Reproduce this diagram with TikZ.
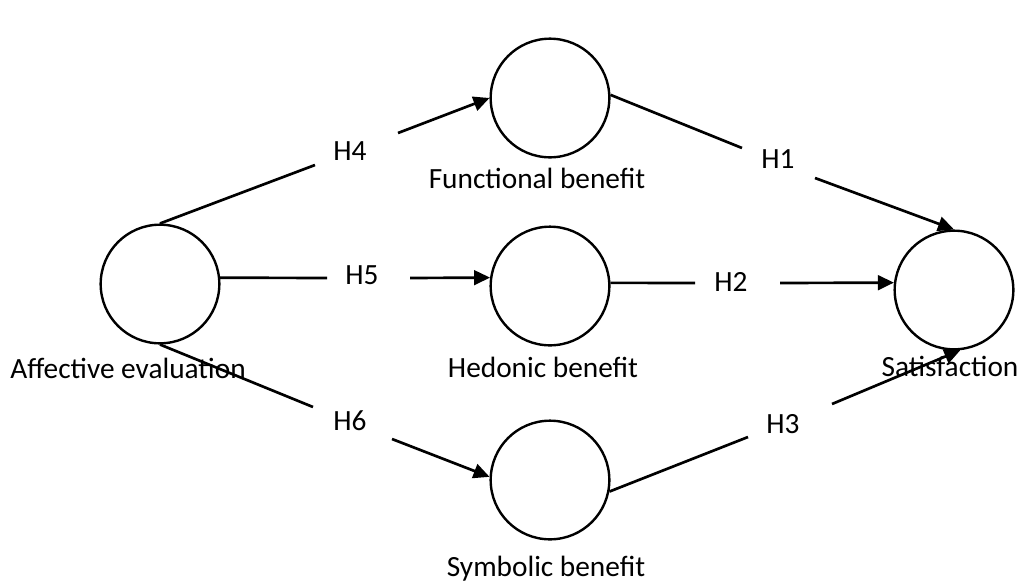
\documentclass[tikz,border=0pt]{standalone}
\usepackage{fontspec}
\setmainfont{Carlito}
\usepackage{tikz}
\usetikzlibrary{arrows,arrows.meta,shapes,positioning}
\tikzstyle{arrow}=[->,line width=2pt,draw=black]
\tikzstyle{line}=[-,line width=2pt,draw=black]
\tikzstyle{construct}=[circle,draw=black,line width=1.8pt,minimum size=89pt,inner sep=0pt]
\tikzstyle{caption}=[anchor=base,inner sep=0pt]

\begin{document}
\begin{tikzpicture}[>={Triangle[length=12pt,width=11pt]},x=0.75pt,y=-0.75pt,
                    font=\fontsize{22}{26}\selectfont]
	\useasboundingbox (0,0) rectangle (1023,583);

	\node[construct] (aff) at (160,284) {};
	\node[construct] (fun) at (550,98) {};
	\node[construct] (hed) at (550,286) {};
	\node[construct] (sym) at (550,480) {};
	\node[construct] (sat) at (954,290) {};

	\node[caption] (afflbl) at (128,378) {Affective evaluation};
	\node[caption] (funlbl) at (537,188) {Functional benefit};
	\node[caption] (hedlbl) at (543,377) {Hedonic benefit};
	\node[caption] (symlbl) at (546,576) {Symbolic benefit};
	\node[caption] (satlbl) at (950,376) {Satisfaction};

	\node[caption] (h4) at (350,160) {H4};
	\node[caption] (h5) at (362,284) {H5};
	\node[caption] (h6) at (350,430) {H6};
	\node[caption] (h1) at (778,168) {H1};
	\node[caption] (h2) at (731,291) {H2};
	\node[caption] (h3) at (783,433) {H3};

	% free ends beside the labels
	\coordinate (h4s) at (315,165);  \coordinate (h4e) at (398,133);
	\coordinate (h5s) at (327,278);  \coordinate (h5e) at (410,278);
	\coordinate (h6s) at (313,407);  \coordinate (h6e) at (392,439);
	\coordinate (h1s) at (742,148);  \coordinate (h1e) at (815,178);
	\coordinate (h2s) at (695,283);  \coordinate (h2e) at (780,283);
	\coordinate (h3s) at (748,437);  \coordinate (h3e) at (832,404);

	\draw [line] (aff.north) -- (h4s);
	\draw [arrow] (h4e) -- (fun.west);
	\draw [line] (aff.6) -- (h5s);
	\draw [arrow] (h5e) -- (hed.172);
	\draw [line] (aff.south) -- (h6s);
	\draw [arrow] (h6e) -- (sym.177);

	\draw [line] (fun.3) -- (h1s);
	\draw [arrow] (h1e) -- (sat.north);
	\draw [line] (hed.3) -- (h2s);
	\draw [arrow] (h2e) -- (sat.173);
	\draw [line] (sym.-11) -- (h3s);
	\draw [arrow] (h3e) -- (sat.-84);
\end{tikzpicture}
\end{document}
